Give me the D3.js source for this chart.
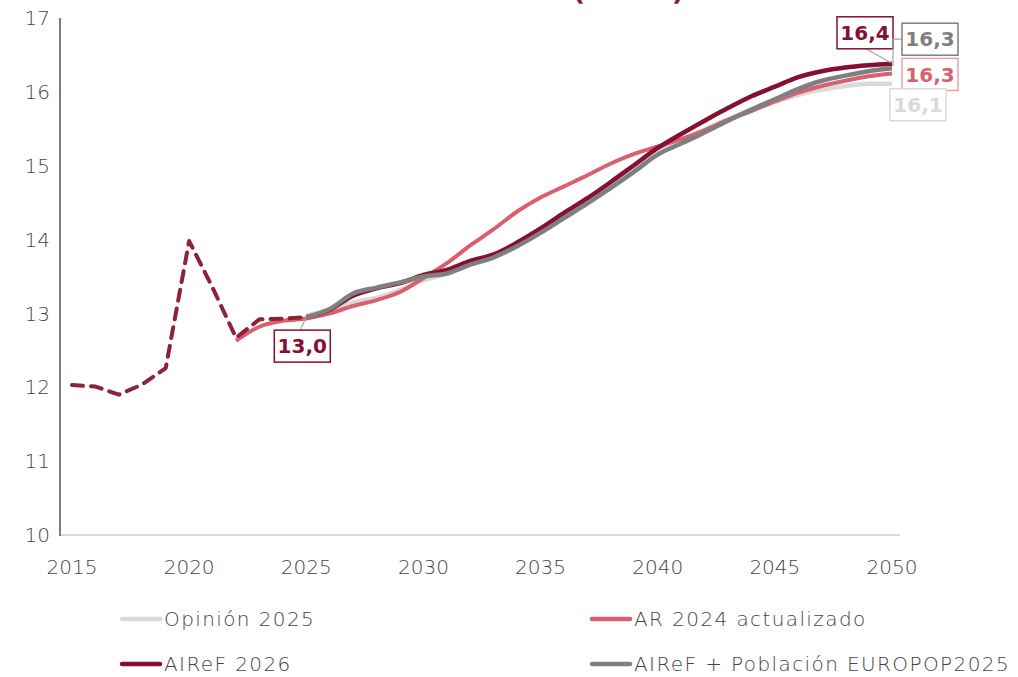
<!DOCTYPE html>
<html><head><meta charset="utf-8">
<script src="https://cdn.jsdelivr.net/npm/d3@7"></script>
<style>body{margin:0;background:#fff}svg{display:block}text{font-family:"DejaVu Sans",sans-serif}</style>
</head><body><svg id="c" width="1018" height="677"></svg>
<script>
const title = "GASTO EN PENSIONES (% PIB)";
const yTicks = [10,11,12,13,14,15,16,17];
const xTicks = [2015,2020,2025,2030,2035,2040,2045,2050];
const histYears = [2015,2016,2017,2018,2019,2020,2021,2022,2023,2024,2025];
const histValues = [12.03,12.01,11.90,12.04,12.26,13.98,13.35,12.67,12.92,12.93,12.95];
const projYears = d3.range(2025,2051);
const arYears = d3.range(2022,2051);
const arValues = [12.63,12.82,12.90,12.93,13.00,13.10,13.18,13.29,13.48,13.68,13.92,14.14,14.38,14.57,14.72,14.87,15.03,15.16,15.26,15.36,15.48,15.62,15.74,15.87,15.99,16.08,16.15,16.21,16.25];
const opinionValues = [12.97,13.05,13.15,13.21,13.32,13.45,13.54,13.68,13.78,13.93,14.12,14.32,14.52,14.74,14.96,15.19,15.35,15.49,15.63,15.76,15.86,15.96,16.03,16.08,16.11,16.11];
const airefValues = [12.95,13.05,13.24,13.34,13.41,13.52,13.59,13.71,13.80,13.96,14.15,14.36,14.56,14.78,15.01,15.24,15.43,15.61,15.78,15.94,16.07,16.20,16.28,16.33,16.36,16.38];
const europopValues = [12.95,13.06,13.27,13.35,13.42,13.50,13.54,13.66,13.76,13.91,14.09,14.29,14.49,14.70,14.92,15.15,15.30,15.45,15.61,15.76,15.90,16.04,16.15,16.22,16.28,16.32];
const seriesNames = ["Opinión 2025","AR 2024 actualizado","AIReF 2026","AIReF + Población EUROPOP2025"];
const colors = {op:"#d9d9d9", ar:"#d9606e", airef:"#870f32", eu:"#7f7f7f", hist:"#8c2337"};

const svg = d3.select("#c");
const x = d3.scaleLinear().domain([2015,2050]).range([72,892]);
const y = d3.scaleLinear().domain([10,17]).range([535,18]);

// title (clipped at top, as in the reference)
svg.append("text").attr("x",455).attr("y",0).attr("text-anchor","middle")
  .attr("font-size",27).attr("font-weight","bold").attr("fill","#8c1a38").text(title);

// axes
svg.append("line").attr("x1",60).attr("x2",900).attr("y1",y(10)).attr("y2",y(10))
  .attr("stroke","#d9d9d9").attr("stroke-width",2);
svg.append("line").attr("x1",60).attr("x2",60).attr("y1",y(17)).attr("y2",y(10)+1)
  .attr("stroke","#44546a").attr("stroke-width",1.5);

const txtCol = "#454545";
svg.selectAll(".yt").data(yTicks).enter().append("text")
  .attr("x",50).attr("y",d=>y(d)).attr("dy","0.36em").attr("text-anchor","end")
  .attr("font-size",20).attr("font-weight",300).attr("fill",txtCol).text(d=>d);
svg.selectAll(".xt").data(xTicks).enter().append("text")
  .attr("x",d=>x(d)).attr("y",567).attr("dy","0.36em").attr("text-anchor","middle")
  .attr("font-size",20).attr("font-weight",300).attr("fill",txtCol).text(d=>d);

const smooth = d3.line().x(d=>x(d[0])).y(d=>y(d[1])).curve(d3.curveMonotoneX);
const straight = d3.line().x(d=>x(d[0])).y(d=>y(d[1]));
function draw(years, vals, color, w, dash){
  const p = svg.append("path").datum(years.map((yr,i)=>[yr,vals[i]]))
    .attr("d", dash ? straight : smooth).attr("fill","none").attr("stroke",color).attr("stroke-width",w)
    .attr("stroke-linejoin","round").attr("stroke-linecap", dash? "round":"butt");
  if(dash) p.attr("stroke-dasharray",dash);
}
draw(projYears, opinionValues, colors.op, 4.5);
draw(arYears, arValues, colors.ar, 4);
draw(projYears, airefValues, colors.airef, 4.5);
draw(projYears, europopValues, colors.eu, 4.5);
draw(histYears, histValues, colors.hist, 4, "11,8");

// data labels
function label(cx, cy, txt, color, border, pts){
  if(pts){
    svg.append("polyline").attr("points",pts.map(p=>p.join(",")).join(" "))
      .attr("fill","none").attr("stroke","#a6a6a6").attr("stroke-width",1.2);
  }
  svg.append("rect").attr("x",cx-28).attr("y",cy-16).attr("width",56).attr("height",32)
    .attr("fill","#fff").attr("stroke",border).attr("stroke-width",1.5);
  svg.append("text").attr("x",cx).attr("y",cy).attr("dy","0.36em").attr("text-anchor","middle")
    .attr("font-size",20).attr("font-weight","bold").attr("fill",color).text(txt);
}
const fmt = v => d3.format(".1f")(v).replace(".",",");
const xe = x(2050);
label(x(2025)-4, y(histValues[10])+29, "13,0", colors.airef, colors.airef,
  [[x(2025)-6, y(histValues[10])+13],[x(2025), y(histValues[10])]]);
label(xe-27, y(airefValues[25])-31, fmt(airefValues[25]), colors.airef, colors.airef,
  [[xe-26, y(airefValues[25])-15],[xe-1, y(airefValues[25])-1]]);
label(xe+38, y(europopValues[25])-29, fmt(europopValues[25]), colors.eu, colors.eu,
  [[xe+10, y(europopValues[25])-29],[xe+1, y(europopValues[25])-29],[xe+1, y(europopValues[25])-2]]);
label(xe+38, y(arValues[28])+1, fmt(arValues[28]), colors.ar, "#e8a3aa");
label(xe+26, y(opinionValues[25])+21, fmt(opinionValues[25]), "#d9d9d9", "#d9d9d9");

// legend
const leg = [
  {n:seriesNames[0], c:colors.op, x:122, y:619},
  {n:seriesNames[1], c:colors.ar, x:592, y:619},
  {n:seriesNames[2], c:colors.airef, x:122, y:664},
  {n:seriesNames[3], c:colors.eu, x:592, y:664}
];
const lg = svg.selectAll(".lg").data(leg).enter().append("g");
lg.append("line").attr("x1",d=>d.x).attr("x2",d=>d.x+38).attr("y1",d=>d.y).attr("y2",d=>d.y)
  .attr("stroke",d=>d.c).attr("stroke-width",4.5).attr("stroke-linecap","round");
lg.append("text").attr("x",d=>d.x+42).attr("y",d=>d.y).attr("dy","0.36em")
  .attr("font-size",20).attr("font-weight",300).attr("letter-spacing",1.4).attr("fill",txtCol).text(d=>d.n);
</script></body></html>
